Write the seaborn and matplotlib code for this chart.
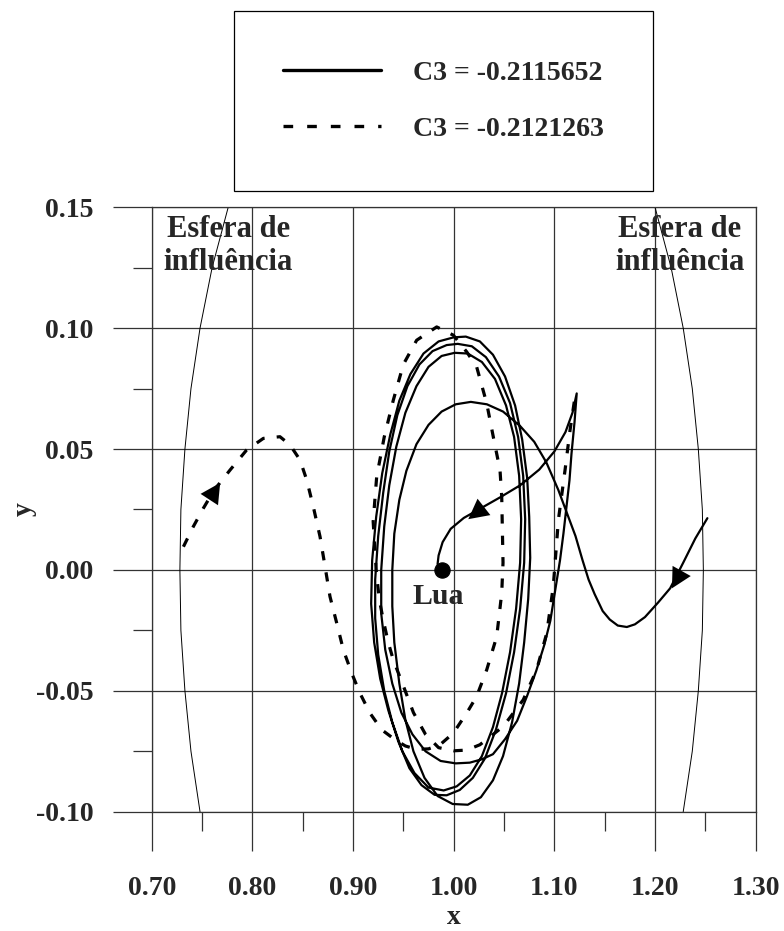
import matplotlib
matplotlib.use("Agg")
import matplotlib.pyplot as plt
import seaborn as sns
from matplotlib.lines import Line2D
from matplotlib.ticker import MultipleLocator, FormatStrFormatter

sns.set_theme(style="white")
plt.rcParams["font.family"] = ["Liberation Serif", "DejaVu Serif"]
plt.rcParams["font.weight"] = "bold"

# trajectory C3 = -0.2115652 (solid)
solid_x = [1.252, 1.240, 1.228, 1.215, 1.203, 1.190, 1.180, 1.172, 1.163, 1.155, 1.148, 1.140,
           1.134, 1.128, 1.121, 1.113, 1.104, 1.092, 1.080, 1.066, 1.049, 1.033, 1.017, 1.002,
           0.988, 0.975, 0.963, 0.953, 0.946, 0.941, 0.939, 0.939, 0.941, 0.946, 0.952, 0.960,
           0.971, 0.984, 0.999, 1.014, 1.027, 1.039, 1.049, 1.058, 1.065, 1.070, 1.074, 1.076,
           1.075, 1.073, 1.068, 1.061, 1.051, 1.039, 1.026, 1.012, 1.000,
           0.985, 0.970, 0.957, 0.946, 0.937, 0.929, 0.923, 0.919, 0.918, 0.921, 0.927, 0.935,
           0.945, 0.956, 0.968, 0.981, 0.993, 1.006, 1.019, 1.031, 1.042, 1.052, 1.060, 1.066,
           1.070, 1.071, 1.069, 1.064, 1.056, 1.045, 1.032, 1.018, 1.004, 0.993,
           0.979, 0.966, 0.954, 0.944, 0.936, 0.930, 0.925, 0.922, 0.922, 0.925, 0.931, 0.939,
           0.949, 0.961, 0.975, 0.990, 1.003, 1.016, 1.028, 1.039, 1.048, 1.056, 1.062, 1.066,
           1.067, 1.065, 1.060, 1.052, 1.041, 1.028, 1.014, 1.001,
           0.988, 0.975, 0.963, 0.952, 0.943, 0.936, 0.931, 0.928, 0.928, 0.932, 0.939, 0.948,
           0.959, 0.972, 0.987, 1.002, 1.016, 1.028, 1.039, 1.051, 1.063, 1.073, 1.082, 1.090,
           1.096, 1.101, 1.1056, 1.109, 1.112, 1.115, 1.117, 1.120, 1.1222,
           1.118, 1.111, 1.100, 1.085, 1.066, 1.046, 1.027, 1.010, 0.997, 0.989, 0.985, 0.984, 0.986]
solid_y = [0.0214, 0.013, 0.003, -0.0076, -0.0135, -0.0195, -0.0225, -0.0236, -0.0230, -0.0205, -0.0170, -0.0100,
           -0.004, 0.004, 0.014, 0.023, 0.033, 0.0445, 0.0530, 0.0595, 0.0655, 0.0685, 0.0695, 0.0685,
           0.0655, 0.0600, 0.0520, 0.0410, 0.0290, 0.0150, 0.000, -0.015, -0.030, -0.047, -0.062, -0.075,
           -0.086, -0.0935, -0.0968, -0.0971, -0.094, -0.087, -0.077, -0.063, -0.047, -0.030, -0.012, 0.005,
           0.022, 0.038, 0.054, 0.068, 0.080, 0.089, 0.0945, 0.0965, 0.0962,
           0.0945, 0.0895, 0.081, 0.070, 0.056, 0.040, 0.022, 0.004, -0.014, -0.030, -0.045, -0.058,
           -0.071, -0.082, -0.089, -0.0930, -0.0932, -0.091, -0.086, -0.078, -0.066, -0.051, -0.034, -0.016,
           0.003, 0.021, 0.039, 0.055, 0.069, 0.080, 0.088, 0.0925, 0.0935, 0.0930,
           0.0905, 0.085, 0.076, 0.064, 0.049, 0.032, 0.014, -0.004, -0.020, -0.035, -0.050, -0.063,
           -0.075, -0.084, -0.0900, -0.0912, -0.0895, -0.085, -0.077, -0.065, -0.051, -0.034, -0.016, 0.003,
           0.021, 0.039, 0.055, 0.068, 0.079, 0.086, 0.0895, 0.0898,
           0.0885, 0.084, 0.076, 0.065, 0.051, 0.035, 0.018, 0.000, -0.018, -0.033, -0.047, -0.059,
           -0.068, -0.075, -0.079, -0.0800, -0.0797, -0.0783, -0.0762, -0.070, -0.0624, -0.052, -0.0417, -0.031,
           -0.021, -0.008, 0.004, 0.015, 0.026, 0.037, 0.048, 0.061, 0.0730,
           0.065, 0.057, 0.049, 0.0415, 0.035, 0.030, 0.0255, 0.0215, 0.017, 0.0115, 0.006, 0.0025, 0.000]

# trajectory C3 = -0.2121263 (dashed)
dashed_x = [0.7315, 0.7413, 0.7513, 0.762, 0.7778, 0.7943, 0.8109, 0.8274, 0.8374, 0.8473, 0.854, 0.8605,
            0.8672, 0.8722, 0.8771, 0.8838, 0.8904, 0.8987, 0.9069, 0.9168, 0.9285, 0.9417, 0.9520, 0.9632,
            0.975, 0.9864, 0.9996, 1.0129, 1.0228, 1.0328, 1.0427, 1.0477, 1.049, 1.0477, 1.046, 1.0393,
            1.0328, 1.0228, 1.0129, 0.9996, 0.9831, 0.9632, 0.950, 0.940, 0.931, 0.9235, 0.920, 0.923,
            0.926, 0.930, 0.935, 0.940, 0.950, 0.960, 0.972, 0.985, 1.000, 1.013, 1.026, 1.0493,
            1.0691, 1.0824, 1.0924, 1.0989, 1.104, 1.1106, 1.1156, 1.1205]
dashed_y = [0.0096, 0.0179, 0.0255, 0.033, 0.0413, 0.0496, 0.0544, 0.0551, 0.0517, 0.0455, 0.0372, 0.0262,
            0.0138, 0.0014, -0.011, -0.022, -0.0331, -0.0427, -0.051, -0.0592, -0.0661, -0.0702, -0.0728, -0.0742,
            -0.0740, -0.0723, -0.0675, -0.0592, -0.0523, -0.0413, -0.0276, -0.0096, 0.003, 0.0303, 0.0413, 0.0551,
            0.0689, 0.084, 0.0902, 0.0971, 0.1005, 0.095, 0.085, 0.0702, 0.055, 0.0386, 0.020, 0.000,
            -0.012, -0.0207, -0.030, -0.0372, -0.048, -0.059, -0.068, -0.0735, -0.0748, -0.0745, -0.0723, -0.0647,
            -0.0537, -0.0413, -0.0262, -0.0069, 0.0207, 0.0413, 0.0579, 0.0716]

# sphere of influence arcs
sphere_y = [0.15, 0.125, 0.10, 0.075, 0.05, 0.025, 0.0, -0.025, -0.05, -0.075, -0.10]
sphere_left_x = [0.776, 0.760, 0.748, 0.739, 0.733, 0.729, 0.728, 0.729, 0.733, 0.739, 0.748]
sphere_right_x = [1.200, 1.216, 1.228, 1.237, 1.243, 1.247, 1.248, 1.247, 1.243, 1.237, 1.228]

moon = (0.988, 0.0)

# direction arrows: (tail, tip)
arrows = [((1.225, -0.0015), (1.2168, -0.0076)),
          ((1.036, 0.028), (1.0145, 0.021)),
          ((0.750, 0.0245), (0.768, 0.036))]

labels = ["C3 = -0.2115652", "C3 = -0.2121263"]
x_ticks = [0.70, 0.80, 0.90, 1.00, 1.10, 1.20, 1.30]
y_ticks = [-0.10, -0.05, 0.00, 0.05, 0.10, 0.15]

grid_c = "#333333"
fig = plt.figure(figsize=(7.84, 9.31), dpi=100)
ax = fig.add_axes([0.1935, 0.1281, 0.7704, 0.6493])

sns.lineplot(x=sphere_left_x, y=sphere_y, sort=False, estimator=None, color="black", linewidth=0.7, ax=ax)
sns.lineplot(x=sphere_right_x, y=sphere_y, sort=False, estimator=None, color="black", linewidth=0.7, ax=ax)
sns.lineplot(x=dashed_x, y=dashed_y, sort=False, estimator=None, color="black", linewidth=2.3, ax=ax)
ax.lines[-1].set_linestyle((0, (2.9, 3.8)))
sns.lineplot(x=solid_x, y=solid_y, sort=False, estimator=None, color="black", linewidth=1.6, ax=ax)
for ln in ax.lines:
    ln.set_solid_joinstyle("round")
sns.scatterplot(x=[moon[0]], y=[moon[1]], s=120, color="black", edgecolor="black", ax=ax, zorder=5)

for tail, tip in arrows:
    ax.annotate("", xy=tip, xytext=tail,
                arrowprops=dict(arrowstyle="-|>,head_length=0.65,head_width=0.34",
                                mutation_scale=22, color="black", lw=0.01,
                                shrinkA=0, shrinkB=0))

ax.text(0.9845, -0.011, "Lua", ha="center", va="center", fontsize=21.5, fontweight="bold")
ax.text(0.776, 0.134, "Esfera de\ninfluência", ha="center", va="center", fontsize=22,
        fontweight="bold", linespacing=1.15)
ax.text(1.2248, 0.134, "Esfera de\ninfluência", ha="center", va="center", fontsize=22,
        fontweight="bold", linespacing=1.15)

ax.set_xlim(0.70, 1.30)
ax.set_ylim(-0.10, 0.15)
ax.set_xticks(x_ticks)
ax.set_yticks(y_ticks)
ax.xaxis.set_minor_locator(MultipleLocator(0.05))
ax.yaxis.set_minor_locator(MultipleLocator(0.025))
ax.xaxis.set_major_formatter(FormatStrFormatter("%.2f"))
ax.yaxis.set_major_formatter(FormatStrFormatter("%.2f"))
ax.grid(True, which="major", color=grid_c, linewidth=0.9)
ax.set_axisbelow(True)
for s in ax.spines.values():
    s.set_color(grid_c)
    s.set_linewidth(0.9)

ax.tick_params(which="both", bottom=True, left=True, direction="out", color=grid_c, width=0.9)
ax.tick_params(which="major", length=28, labelsize=20)
ax.tick_params(which="minor", length=13.7)
ax.tick_params(axis="x", which="major", pad=18)
ax.tick_params(axis="y", which="major", pad=14)
for lab in ax.get_xticklabels() + ax.get_yticklabels():
    lab.set_fontweight("bold")

ax.set_xlabel("x", fontsize=20, fontweight="bold")
ax.set_ylabel("y", fontsize=20, fontweight="bold")
ax.xaxis.set_label_coords(0.5, -0.154)
ax.yaxis.set_label_coords(-0.19, 0.5)

handles = [Line2D([], [], color="black", lw=2.4),
           Line2D([], [], color="black", lw=2.4, linestyle=(0, (2.9, 4.2)))]
leg = ax.legend(handles, labels, loc="center", bbox_to_anchor=(0.5657, 0.8915),
                bbox_transform=fig.transFigure, frameon=True, fancybox=False,
                edgecolor="black", framealpha=1, prop={"weight": "bold", "size": 20},
                handlelength=3.53, handletextpad=1.15, borderpad=1.76, labelspacing=1.1)
leg.get_frame().set_linewidth(0.9)

fig.savefig("out.png", dpi=100)
